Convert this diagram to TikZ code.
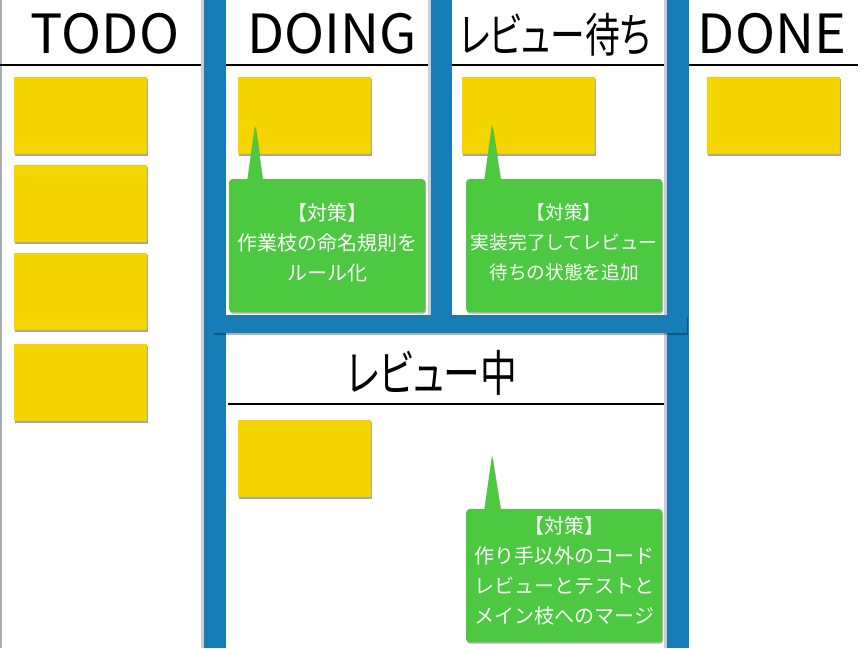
\documentclass[tikz,border=0pt]{standalone}
\usepackage{fontspec}
\setmainfont{Noto Sans CJK JP}
\newfontfamily\jpp[RawFeature=+palt]{Noto Sans CJK JP}
\usetikzlibrary{shadows,calc}
\definecolor{boardblue}{HTML}{167DB6}
\definecolor{sticky}{HTML}{F5D500}
\definecolor{calloutgreen}{HTML}{4CC940}
\definecolor{edgegray}{HTML}{A8ADB2}
\begin{document}
\begin{tikzpicture}[x=1pt,y=-1pt,
  card/.style={fill=sticky, minimum width=133pt, minimum height=77pt, inner sep=0pt, anchor=north west,
    drop shadow={shadow xshift=0.5pt, shadow yshift=-2pt, opacity=0.35, fill=black}},
  shade/.style={drop shadow={shadow xshift=0.8pt, shadow yshift=-1.5pt, opacity=0.3, fill=black}},
  note/.style={fill=calloutgreen, rounded corners=3pt, minimum width=196pt, minimum height=133pt,
    anchor=north west, inner sep=0pt, shade},
  notetext/.style={text=white, font=\fontsize{20}{30}\selectfont, align=center, inner sep=0pt},
  head/.style={font=\fontsize{54}{54}\selectfont, inner sep=0pt},
  jhead/.style={font=\fontsize{47}{47}\selectfont\jpp, inner sep=0pt},
  bar/.style={fill=boardblue},
  rulerline/.style={line width=2pt, black}]
\useasboundingbox (0,0) rectangle (866,648);
\fill[white] (0,0) rectangle (866,648);
% left edge
\draw[edgegray, line width=1.5pt] (0.75,0) -- (0.75,648);
% header rules
\draw[rulerline] (0,65) -- (858,65);
% blue frame
\fill[edgegray!60] (201,0) rectangle (204,648);
\fill[bar] (204,0) rectangle (226,648);
\fill[edgegray!60] (428,0) rectangle (431,316);
\fill[bar] (431,0) rectangle (452,316);
\fill[edgegray!60] (664,0) rectangle (667,648);
\fill[bar] (667,0) rectangle (689,648);
\fill[bar, shade] (213,315) rectangle (687,333);
% review rule
\draw[rulerline] (228,404) -- (664,404);
% headers
\node[head] (hTodo) at (105,34) {TODO};
\node[head] (hDoing) at (332,34) {DOING};
\node[jhead] (hWait) at (555,35) {\scalebox{0.74}[1]{レビュー待ち}};
\node[head] (hDone) at (772,34) {DONE};
\node[jhead, font=\fontsize{49}{49}\selectfont\jpp] (hReview) at (432,373) {\scalebox{0.75}[1]{レビュー中}};
% cards
\node[card] (t1) at (14,77) {};
\node[card] (t2) at (14,165) {};
\node[card] (t3) at (14,253) {};
\node[card] (t4) at (14,344) {};
\node[card] (d1) at (238,77) {};
\node[card] (w1) at (462,77) {};
\node[card] (f1) at (707,77) {};
\node[card] (r1) at (238,420) {};
% callout 1
\coordinate (n1) at (229,179);
\coordinate (tip1) at (255,125);
\fill[calloutgreen, shade] ($(n1)+(18,3)$) -- (tip1) -- ($(n1)+(34,3)$) -- cycle;
\node[note] (c1) at (n1) {};
\node[notetext] (c1t) at ($(c1.center)+(0,-3)$) {【対策】\\作業枝の命名規則を\\ルール化};
% callout 2
\coordinate (n2) at (466,179);
\coordinate (tip2) at (492,124);
\fill[calloutgreen, shade] ($(n2)+(18,3)$) -- (tip2) -- ($(n2)+(35,3)$) -- cycle;
\node[note] (c2) at (n2) {};
\node[notetext, font=\fontsize{18.7}{30}\selectfont] (c2t) at ($(c2.center)+(0,-3)$) {【対策】\\実装完了してレビュー\\待ちの状態を追加};
% callout 3
\coordinate (n3) at (466,509);
\coordinate (tip3) at (492,455);
\fill[calloutgreen, shade] ($(n3)+(18,3)$) -- (tip3) -- ($(n3)+(35,3)$) -- cycle;
\node[note] (c3) at (n3) {};
\node[notetext] (c3t) at ($(c3.center)+(0,-5)$) {【対策】\\作り手以外のコード\\レビューとテストと\\メイン枝へのマージ};
\end{tikzpicture}
\end{document}
